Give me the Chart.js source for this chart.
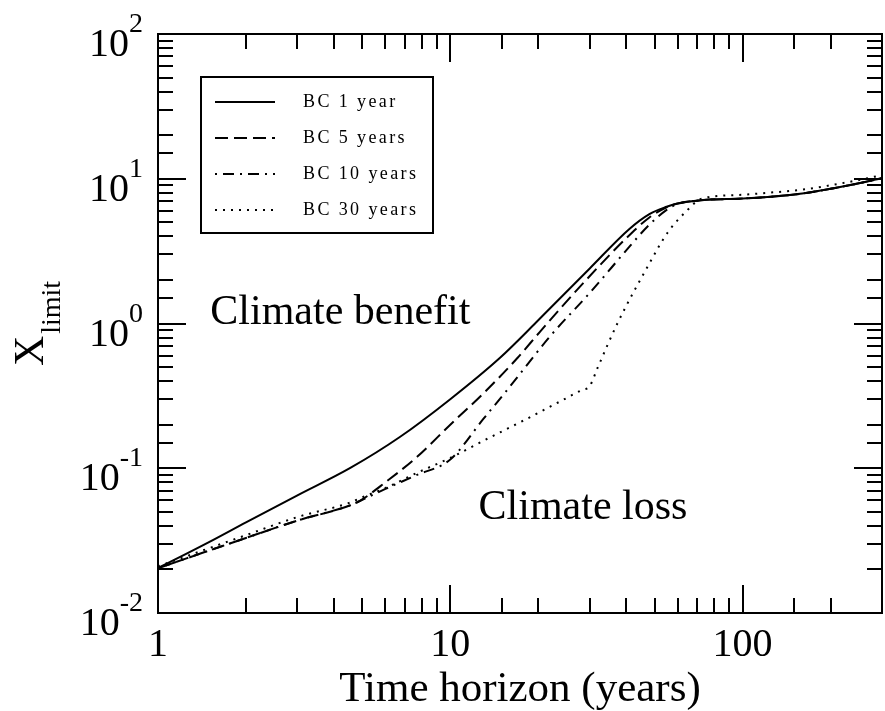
<!DOCTYPE html>
<html><head><meta charset="utf-8">
<script src="https://cdn.jsdelivr.net/npm/chart.js@4"></script>
<style>html,body{margin:0;padding:0;background:#fff}</style>
</head><body>
<canvas id="c" width="885" height="711"></canvas>
<script>
// ---- data ----
const seriesLabels = ['BC 1 year', 'BC 5 years', 'BC 10 years', 'BC 30 years'];

const x1 = [1, 1.5, 2, 3, 4.55, 6.74, 10, 14.8, 19.5, 22, 30, 41, 48, 55, 60, 72, 100, 122, 160, 205, 250, 300];
const y1 = [0.0204, 0.031, 0.0423, 0.065, 0.1005, 0.165, 0.30, 0.58, 1.0, 1.28, 2.4, 4.5, 5.7, 6.4, 6.75, 7.1, 7.3, 7.48, 7.9, 8.6, 9.3, 10.1];

const x2 = [1, 2, 3, 4.55, 5, 6, 7.7, 10, 13, 17, 20.3, 28.5, 40.4, 48, 55, 60, 72, 100, 122, 160, 205, 250, 300];
const y2 = [0.0204, 0.033, 0.0435, 0.0555, 0.061, 0.08, 0.12, 0.20, 0.33, 0.58, 0.88, 1.9, 3.96, 5.4, 6.35, 6.75, 7.1, 7.3, 7.48, 7.9, 8.6, 9.3, 10.1];

const x3 = [1, 2, 3, 4.55, 5, 6, 7.7, 10, 13, 15.7, 22, 30.2, 41.3, 47.4, 55, 60, 72, 100, 122, 160, 205, 250, 300];
const y3 = [0.0204, 0.033, 0.0435, 0.0555, 0.0605, 0.072, 0.09, 0.115, 0.22, 0.35, 0.82, 1.65, 3.45, 4.7, 6.1, 6.7, 7.1, 7.3, 7.48, 7.9, 8.6, 9.3, 10.1];

const x4 = [1, 2, 3, 4.55, 5, 6, 7.7, 10, 13, 14.8, 18, 23.8, 28, 30, 32, 37.3, 48, 55.3, 64.8, 72, 100, 122, 160, 205, 250, 300];
const y4 = [0.021, 0.0345, 0.046, 0.058, 0.063, 0.073, 0.093, 0.118, 0.155, 0.177, 0.216, 0.29, 0.345, 0.37, 0.5, 1.0, 2.6, 4.22, 6.08, 7.25, 7.75, 8.0, 8.4, 9.1, 9.8, 10.6];

const xTickValues = [1, 10, 100];
const xTickLabels = ['1', '10', '100'];
const yTickValues = [0.01, 0.1, 1, 10, 100];
const yTickBase = '10';
const yTickExponents = ['-2', '-1', '0', '1', '2'];

const xTitle = 'Time horizon (years)';
const yTitleMain = 'X';
const yTitleSub = 'limit';
const regionLabels = ['Climate benefit', 'Climate loss'];

// ---- styling ----
const FONT = "'Liberation Serif', 'Times New Roman', serif";
const dashes = [[], [13, 6], [2, 6, 11, 6], [2, 6]];

function pts(xs, ys) { return xs.map((x, i) => ({x: x, y: ys[i]})); }
const seriesData = [pts(x1, y1), pts(x2, y2), pts(x3, y3), pts(x4, y4)];

const datasets = seriesLabels.map((lab, i) => ({
  label: lab,
  data: seriesData[i],
  borderColor: '#000',
  borderWidth: 2,
  borderDash: dashes[i],
  pointRadius: 0,
  fill: false,
  cubicInterpolationMode: 'monotone'
}));

const decorPlugin = {
  id: 'decor',
  afterDatasetsDraw(chart) {
    const {ctx, chartArea: a, scales: {x, y}} = chart;
    ctx.save();
    ctx.strokeStyle = '#000';
    ctx.fillStyle = '#000';
    ctx.lineWidth = 2;
    ctx.setLineDash([]);
    // frame
    ctx.strokeRect(a.left, a.top, a.right - a.left, a.bottom - a.top);
    const isMajor = v => Math.abs(Math.log10(v) - Math.round(Math.log10(v))) < 1e-6;
    ctx.beginPath();
    x.ticks.forEach(t => {
      const px = Math.round(x.getPixelForValue(t.value));
      if (px <= a.left + 1 || px >= a.right - 1) return;
      const L = isMajor(t.value) ? 28 : 15;
      ctx.moveTo(px, a.bottom); ctx.lineTo(px, a.bottom - L);
      ctx.moveTo(px, a.top); ctx.lineTo(px, a.top + L);
    });
    y.ticks.forEach(t => {
      const py = Math.round(y.getPixelForValue(t.value));
      if (py <= a.top + 1 || py >= a.bottom - 1) return;
      const L = isMajor(t.value) ? 28 : 15;
      ctx.moveTo(a.left, py); ctx.lineTo(a.left + L, py);
      ctx.moveTo(a.right, py); ctx.lineTo(a.right - L, py);
    });
    ctx.stroke();

    // y tick labels 10^n
    yTickValues.forEach((v, i) => {
      const py = y.getPixelForValue(v);
      ctx.font = '28px ' + FONT;
      const ew = ctx.measureText(yTickExponents[i]).width;
      ctx.font = '40px ' + FONT;
      const bw = ctx.measureText(yTickBase).width;
      const right = a.left - 15;
      ctx.textAlign = 'left';
      ctx.textBaseline = 'alphabetic';
      ctx.fillText(yTickBase, right - ew - bw, py + 22);
      ctx.font = '28px ' + FONT;
      ctx.fillText(yTickExponents[i], right - ew, py - 2);
    });

    // y title X_limit (rotated)
    ctx.save();
    const cy = (a.top + a.bottom) / 2;
    ctx.font = '42px ' + FONT;
    const w1 = ctx.measureText(yTitleMain).width;
    ctx.font = '28px ' + FONT;
    const w2 = ctx.measureText(yTitleSub).width;
    const total = w1 + 2 + w2;
    ctx.translate(43, cy + total / 2);
    ctx.rotate(-Math.PI / 2);
    ctx.textAlign = 'left';
    ctx.textBaseline = 'alphabetic';
    ctx.font = '42px ' + FONT;
    ctx.fillText(yTitleMain, 0, 0);
    ctx.font = '28px ' + FONT;
    ctx.fillText(yTitleSub, w1 + 2, 17);
    ctx.restore();

    // region labels
    ctx.font = '42px ' + FONT;
    ctx.textAlign = 'left';
    ctx.textBaseline = 'alphabetic';
    ctx.fillText(regionLabels[0], x.getPixelForValue(1.51), y.getPixelForValue(1.0));
    ctx.fillText(regionLabels[1], x.getPixelForValue(12.5), y.getPixelForValue(0.0446));

    // legend box
    const bx = a.left + 43, by = a.top + 43, bw2 = 232, bh = 156;
    ctx.fillStyle = '#fff';
    ctx.fillRect(bx, by, bw2, bh);
    ctx.strokeStyle = '#000';
    ctx.lineWidth = 2;
    ctx.strokeRect(bx, by, bw2, bh);
    ctx.fillStyle = '#000';
    chart.data.datasets.forEach((ds, i) => {
      const ry = by + 25 + i * 36;
      ctx.setLineDash(ds.borderDash || []);
      ctx.beginPath();
      ctx.moveTo(bx + 14, ry);
      ctx.lineTo(bx + 74, ry);
      ctx.stroke();
      ctx.setLineDash([]);
      ctx.font = '18px ' + FONT;
      try { ctx.letterSpacing = '2.4px'; } catch (e) {}
      ctx.fillText(ds.label, bx + 102, ry + 5);
      try { ctx.letterSpacing = '0px'; } catch (e) {}
    });
    ctx.restore();
  }
};

new Chart(document.getElementById('c'), {
  type: 'line',
  data: {datasets: datasets},
  options: {
    responsive: false,
    animation: false,
    devicePixelRatio: 1,
    layout: {padding: {left: 158, top: 34, right: 3, bottom: 0}},
    plugins: {legend: {display: false}, tooltip: {enabled: false}},
    scales: {
      x: {
        type: 'logarithmic', min: 1, max: 300,
        grid: {display: false}, border: {display: false},
        afterFit: function (s) { s.height = 98; s.paddingRight = 0; },
        ticks: {
          autoSkip: false, maxRotation: 0, minRotation: 0, padding: 2, color: '#000',
          font: {family: FONT, size: 40, lineHeight: 1.1},
          callback: function (v) {
            const i = xTickValues.findIndex(t => Math.abs(t - v) / t < 1e-6);
            return i >= 0 ? xTickLabels[i] : '';
          }
        },
        title: {display: true, text: xTitle, color: '#000', padding: {top: 0, bottom: -2},
                font: {family: FONT, size: 43, lineHeight: 1.1}}
      },
      y: {
        type: 'logarithmic', min: 0.01, max: 100,
        grid: {display: false}, border: {display: false},
        afterFit: function (s) { s.width = 0; },
        ticks: {display: false}
      }
    }
  },
  plugins: [decorPlugin]
});
</script>
</body></html>
